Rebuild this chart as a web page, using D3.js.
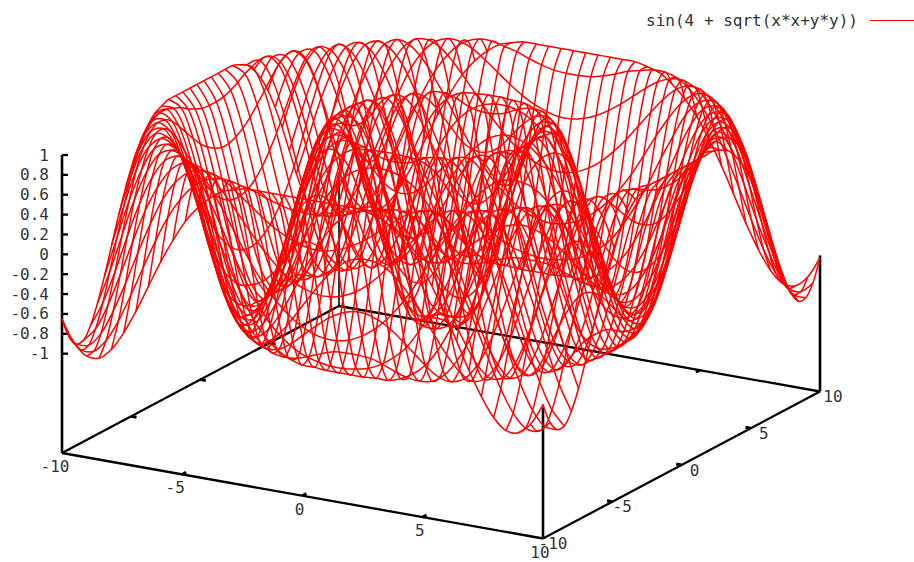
<!DOCTYPE html>
<html><head><meta charset="utf-8">
<style>html,body{margin:0;padding:0;background:#fff;overflow:hidden}svg{display:block}text{font-family:"DejaVu Sans Mono",monospace;font-size:16px;fill:#333}</style>
<script src="https://cdn.jsdelivr.net/npm/d3@7"></script></head><body><script>
const legendLabel = "sin(4 + sqrt(x*x+y*y))";
const xTicks = [-10,-5,0,5,10];
const yTicks = [-10,-5,0,5,10];
const zTicks = [1,0.8,0.6,0.4,0.2,0,-0.2,-0.4,-0.6,-0.8,-1];
// The 40 mesh columns. The mesh is too dense to read node by node, so these heights were worked
// out by hand from the function printed in the chart's legend, rounded to 2 decimals, and checked
// against the picture's corners, ridges and lobes; they are not measured from the image.
// The surface is round, so one octant is listed: row = |column a|, entry = |column b| from the diagonal on.
const samples = d3.range(40);
const heights = [
[-.94,-.99,-.83,-.45,.04,.52,.87,1,.87,.52,.03,-.46,-.84,-1,-.9,-.58,-.1,.4,.8,.99],
[-.93,-.71,-.32,.15,.59,.9,.99,.84,.47,-.01,-.5,-.85,-1,-.88,-.55,-.07,.43,.81,.99],
[-.45,-.08,.35,.73,.96,.98,.77,.37,-.11,-.57,-.89,-.99,-.85,-.49,-.01,.48,.84,.99],
[.25,.59,.87,.99,.92,.65,.23,-.25,-.67,-.94,-.99,-.79,-.4,.08,.55,.88,.99],
[.83,.97,.98,.8,.47,.03,-.42,-.78,-.98,-.95,-.7,-.28,.2,.64,.93,.99],
[.98,.87,.6,.23,-.2,-.6,-.89,-.99,-.88,-.58,-.13,.34,.74,.96,.96],
[.65,.33,-.06,-.46,-.78,-.97,-.97,-.77,-.4,.05,.5,.84,.99,.92],
[-.01,-.38,-.7,-.92,-.99,-.88,-.6,-.19,.26,.66,.93,.99,.83],
[-.67,-.89,-1,-.94,-.72,-.37,.05,.48,.81,.98,.95,.71],
[-.99,-.96,-.79,-.49,-.1,.32,.68,.93,.99,.86,.55],
[-.81,-.55,-.19,.2,.57,.85,.99,.94,.71,.34],
[-.22,.14,.5,.8,.96,.98,.82,.51,.1],
[.48,.76,.94,.99,.88,.63,.25,-.17],
[.94,.99,.92,.69,.36,-.04,-.44],
[.93,.73,.43,.05,-.34,-.68],
[.45,.1,-.28,-.62,-.87],
[-.25,-.58,-.84,-.98],
[-.83,-.97,-.98],
[-.98,-.87],
[-.65]];

const W = 914, H = 562;
const zBase = -2;
// Screen offsets of the oblique projection, each a plain linear scale.
const xAlongX = d3.scaleLinear().domain([-10,10]).range([62,543]);
const yAlongX = d3.scaleLinear().domain([-10,10]).range([453,538.5]);
const xAlongY = d3.scaleLinear().domain([-10,10]).range([0,277]);
const yAlongY = d3.scaleLinear().domain([-10,10]).range([0,-147]);
const lift = d3.scaleLinear().domain([zBase,1]).range([0,-298]);
const gridValue = d3.scaleLinear().domain([0,39]).range([-10,10]);
const px = (x,y) => xAlongX(x) + xAlongY(y);
const py = (x,y,z) => yAlongX(x) + yAlongY(y) + lift(z);

const height = (i,j) => {
  const a = Math.abs(2*i-39), b = Math.abs(2*j-39);
  const lo = Math.min(a,b), hi = Math.max(a,b);
  return heights[(lo-1)/2][(hi-lo)/2];
};

const svg = d3.select("body").append("svg").attr("width",W).attr("height",H).attr("viewBox",[0,0,W,H]);
const line = d3.line().x(d=>d[0]).y(d=>d[1]);
const meshLine = d3.line().x(d=>d[0]).y(d=>d[1]).curve(d3.curveCatmullRom.alpha(0.5));
const black = svg.append("g").attr("fill","none").attr("stroke","#000").attr("stroke-width",2.3);

const seg = (x0,y0,z0,x1,y1,z1) => black.append("path")
  .attr("d", line([[px(x0,y0),py(x0,y0,z0)],[px(x1,y1),py(x1,y1,z1)]]));

// base rectangle
seg(-10,-10,zBase,10,-10,zBase);
seg(10,-10,zBase,10,10,zBase);
seg(-10,-10,zBase,-10,10,zBase);
seg(-10,10,zBase,10,10,zBase);
// verticals
seg(-10,-10,zBase,-10,-10,1).attr("stroke-width",2.6);
seg(10,-10,zBase,10,-10,-0.68).attr("stroke-width",2.6);
seg(10,10,zBase,10,10,-0.63).attr("stroke-width",2.6);
seg(-10,10,zBase,-10,10,-0.72).attr("stroke-width",1.6);
// ticks
xTicks.slice(1,-1).forEach(t=>{ seg(t,-10,zBase,t,-9.72,zBase).attr("stroke-width",3); seg(t,10,zBase,t,9.72,zBase).attr("stroke-width",3); });
yTicks.slice(1,-1).forEach(t=>{ seg(10,t,zBase,9.78,t,zBase).attr("stroke-width",3); seg(-10,t,zBase,-9.78,t,zBase).attr("stroke-width",3); });
zTicks.forEach(t=>{
  const x0=px(-10,-10), y0=py(-10,-10,t);
  black.append("path").attr("d",line([[x0,y0],[x0+6,y0]]));
});

// mesh
const mesh = svg.append("g").attr("fill","none").attr("stroke","#ff0000").attr("stroke-width",1.5).attr("stroke-linejoin","round");
samples.forEach(i=>{
  mesh.append("path").attr("d",meshLine(samples.map(j=>{const x=gridValue(i),y=gridValue(j);return [px(x,y),py(x,y,height(i,j))];})));
  mesh.append("path").attr("d",meshLine(samples.map(j=>{const x=gridValue(j),y=gridValue(i);return [px(x,y),py(x,y,height(j,i))];})));
});

// labels
const labels = svg.append("g");
const fmt = t => String(t);
zTicks.forEach(t=>{
  labels.append("text").attr("x",49).attr("y",py(-10,-10,t)+5.5).attr("text-anchor","end").text(fmt(t));
});
xTicks.forEach(t=>{
  labels.append("text").attr("x",px(t,-10)-(t<0?7:3)).attr("y",py(t,-10,zBase)+19).attr("text-anchor","middle").text(fmt(t));
});
yTicks.forEach(t=>{
  labels.append("text").attr("x",px(10,t)+(t<0?10:13)).attr("y",py(10,t,zBase)+10.5).attr("text-anchor","middle").text(fmt(t));
});

// legend
labels.append("text").attr("x",858).attr("y",26).attr("text-anchor","end").text(legendLabel);
svg.append("path").attr("d",line([[870,20.5],[914,20.5]])).attr("stroke","#ff0000").attr("stroke-width",1.2).attr("fill","none");
</script></body></html>
